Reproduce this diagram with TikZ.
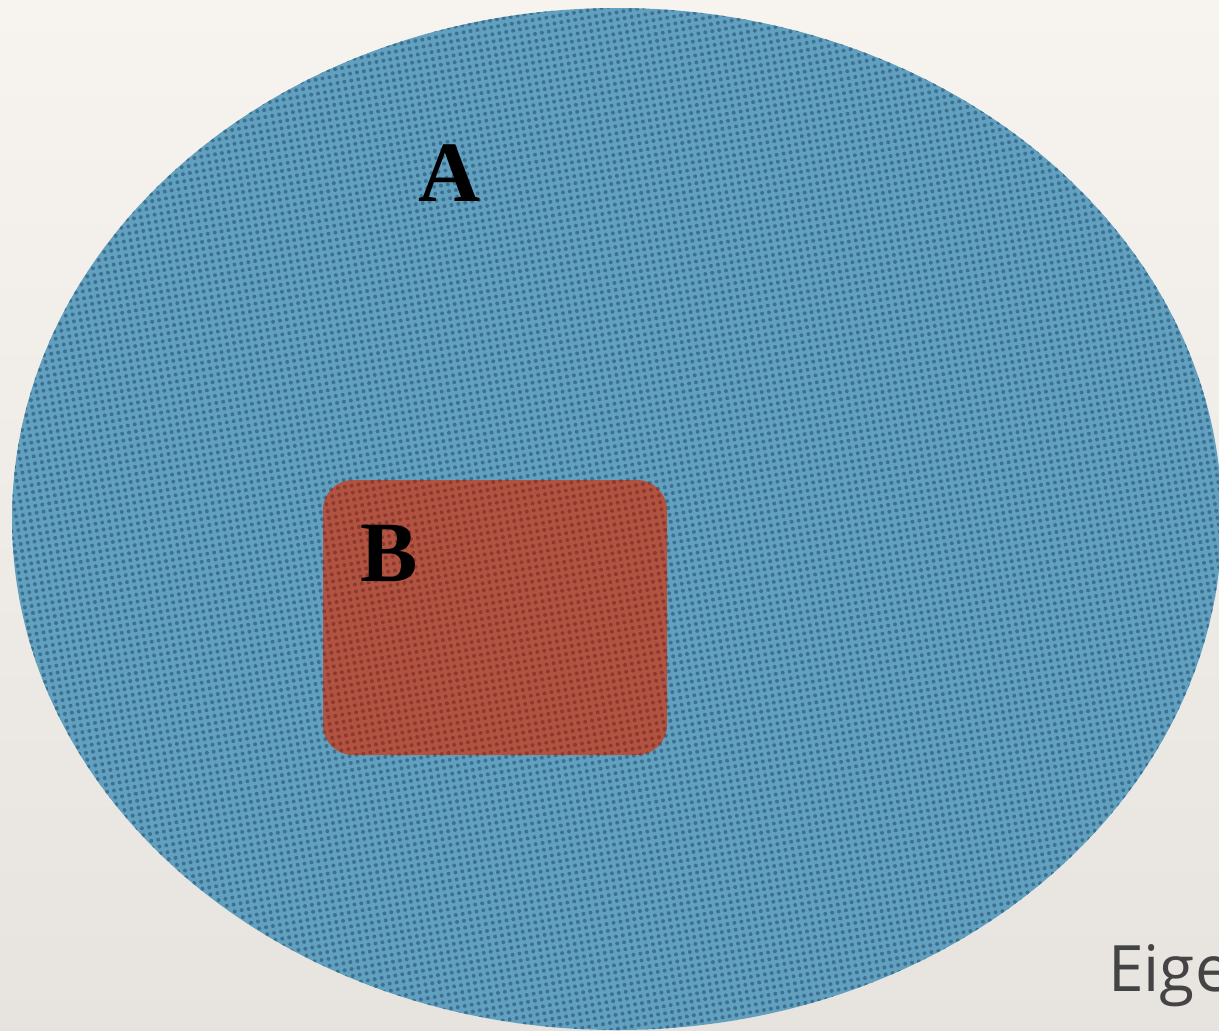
\documentclass[tikz,border=0pt]{standalone}
\usepackage{fontspec}
\setmainfont{Liberation Serif}
\newfontfamily\labelsans{Open Sans}
\usetikzlibrary{patterns.meta}
\definecolor{paperTop}{HTML}{F7F4EF}
\definecolor{paperBot}{HTML}{E7E3DE}
\definecolor{setBlue}{HTML}{62A0C0}
\definecolor{setBlueDot}{HTML}{3E7191}
\definecolor{setRed}{HTML}{B25342}
\definecolor{setRedDot}{HTML}{8A3A2E}
\definecolor{capGray}{HTML}{444444}
\tikzset{
  setlabel/.style={font=\fontsize{86}{86}\selectfont\bfseries, text=black, anchor=base, inner sep=0pt},
  dotted fill/.style={pattern={Dots[distance=7pt, radius=2pt, angle=10]}, pattern color=#1},
}
\begin{document}
\begin{tikzpicture}[x=1pt,y=1pt]
  % paper background
  \shade[top color=paperTop, bottom color=paperBot] (0,0) rectangle (1219,-1031);
  \useasboundingbox (0,0) rectangle (1219,-1031);
  \begin{scope}
    \clip (0,0) rectangle (1219,-1031);
    % set A
    \fill[setBlue] (617,-519) ellipse [x radius=605, y radius=511];
    \fill[dotted fill=setBlueDot] (617,-519) ellipse [x radius=605, y radius=511];
    % set B
    \fill[setRed, rounded corners=30pt] (323,-480) rectangle (667,-755);
    \fill[dotted fill=setRedDot, rounded corners=30pt] (323,-480) rectangle (667,-755);
    \node[setlabel] (la) at (450,-201) {A};
    \node[setlabel] (lb) at (389,-581) {B};
    \node[font=\labelsans\fontsize{64}{64}\selectfont, text=capGray, anchor=base west, inner sep=0pt] (eig) at (1108,-991) {Eige};
  \end{scope}
\end{tikzpicture}
\end{document}
